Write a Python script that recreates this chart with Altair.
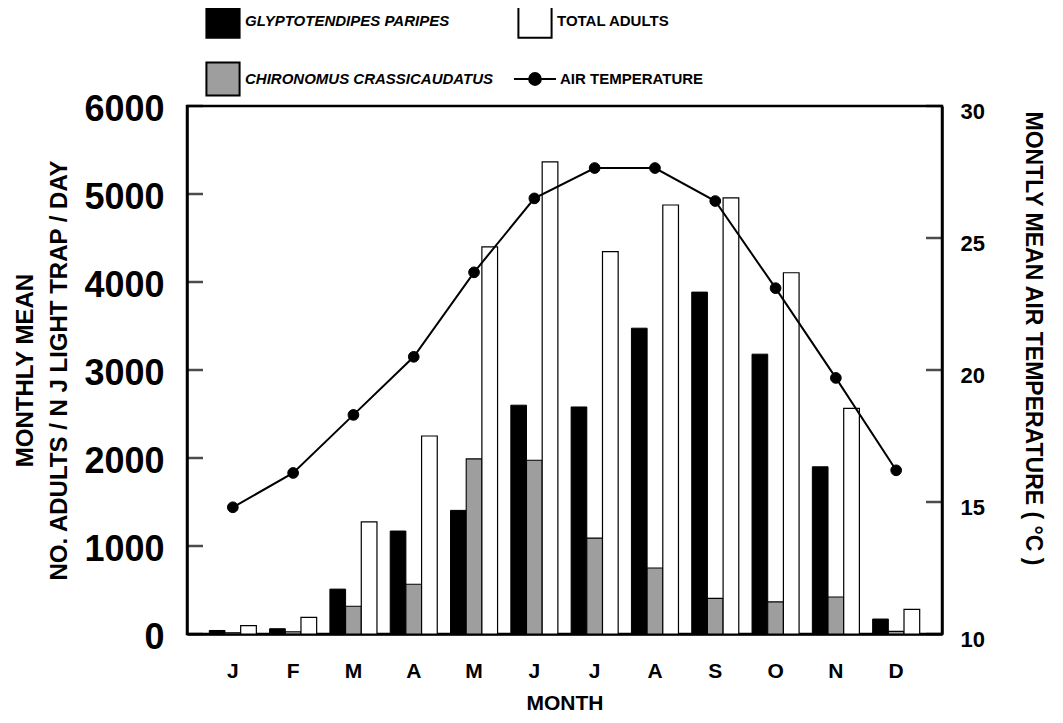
import json
import altair as alt
import pandas as pd

# ---------------- data ----------------
month_keys = ["Jan", "Feb", "Mar", "Apr", "May", "Jun",
              "Jul", "Aug", "Sep", "Oct", "Nov", "Dec"]
month_letters = ["J", "F", "M", "A", "M", "J", "J", "A", "S", "O", "N", "D"]

glyptotendipes = [40, 60, 510, 1170, 1405, 2600, 2580, 3475, 3885, 3180, 1900, 170]
chironomus = [15, 25, 315, 565, 1990, 1975, 1090, 750, 405, 365, 420, 30]
total_adults = [95, 190, 1275, 2250, 4400, 5365, 4345, 4875, 4955, 4105, 2565, 280]
air_temp = [14.8, 16.1, 18.3, 20.5, 23.7, 26.5, 27.65, 27.65, 26.4, 23.1, 19.7, 16.2]

S_G = "GLYPTOTENDIPES PARIPES"
S_C = "CHIRONOMUS CRASSICAUDATUS"
S_T = "TOTAL ADULTS"
S_AIR = "AIR TEMPERATURE"

bar_order = [S_G, S_C, S_T]          # order inside each month group
fill_colors = {S_G: "black", S_C: "#9e9e9e", S_T: "white"}
stroke_widths = {S_G: 1, S_C: 1.2, S_T: 3}

count_ticks = [0, 1000, 2000, 3000, 4000, 5000, 6000]
temp_ticks = [10, 15, 20, 25, 30]

# ---------------- tables ----------------
rows = []
for i, m in enumerate(month_keys):
    rows.append({"month": m, "series": S_G, "count": glyptotendipes[i]})
    rows.append({"month": m, "series": S_C, "count": chironomus[i]})
    rows.append({"month": m, "series": S_T, "count": total_adults[i]})
bars_df = pd.DataFrame(rows)
temp_df = pd.DataFrame({"month": month_keys, "temp": air_temp, "series": S_AIR})
count_tick_df = pd.DataFrame({"count": count_ticks})
temp_tick_df = pd.DataFrame({"temp": temp_ticks})

FONT = "Liberation Sans"
label_map = json.dumps(dict(zip(month_keys, month_letters)))

W, H = 755, 528
count_scale = alt.Scale(domain=[0, 6000], nice=False)
temp_scale = alt.Scale(domain=[10, 30], nice=False)

left_axis = alt.Axis(
    values=count_ticks, grid=False, ticks=False, format="d",
    title=["MONTHLY MEAN", "NO. ADULTS / N J LIGHT TRAP / DAY"],
    titleFont=FONT, titleFontSize=24, titleFontWeight="bold",
    titleLineHeight=34, titlePadding=12, titleColor="black",
    labelFont=FONT, labelFontSize=36, labelFontWeight="bold",
    labelColor="black", labelPadding=23, labelOffset=3,
    domainWidth=2.5, domainColor="black",
)

right_axis = alt.Axis(
    orient="right", values=temp_ticks, grid=False, ticks=False,
    title="MONTLY MEAN AIR TEMPERATURE ( °C )",
    titleFont=FONT, titleFontSize=23, titleFontWeight="bold",
    titlePadding=36, titleColor="black", titleY=232,
    labelFont=FONT, labelFontSize=22, labelFontWeight="bold",
    labelColor="black", labelPadding=18, labelOffset=5,
    domainWidth=2.5, domainColor="black",
)

x_axis = alt.Axis(
    title="MONTH", ticks=False, labelAngle=0,
    labelExpr=f"{label_map}[datum.value]",
    labelFont=FONT, labelFontSize=21, labelFontWeight="bold",
    labelPadding=26, titleFont=FONT, titleFontSize=21,
    titleFontWeight="bold", titlePadding=11,
    domainWidth=2.5, domainColor="black", labelColor="black",
    titleColor="black",
)

x_enc = alt.X(
    "month:N", sort=month_keys,
    scale=alt.Scale(paddingInner=0.22, paddingOuter=0.37),
    axis=x_axis,
)

bars = alt.Chart(bars_df).mark_bar(stroke="black").encode(
    x=x_enc,
    xOffset=alt.XOffset(
        "series:N", sort=bar_order,
        scale=alt.Scale(domain=bar_order, paddingInner=0, paddingOuter=0),
    ),
    y=alt.Y("count:Q", scale=count_scale, axis=left_axis),
    fill=alt.Fill(
        "series:N",
        scale=alt.Scale(domain=bar_order,
                        range=[fill_colors[s] for s in bar_order]),
        legend=alt.Legend(
            title=None, orient="none", legendX=18, legendY=-103,
            values=bar_order,
            columns=2, columnPadding=20, rowPadding=16, padding=0,
            symbolType="square", symbolSize=1100,
            symbolStrokeColor="black", symbolStrokeWidth=2,
            labelFont=FONT, labelFontSize=15, labelFontWeight="bold",
            labelColor="black", labelOffset=4, labelLimit=400,
            labelFontStyle={"expr": f"datum.value == '{S_T}' ? 'normal' : 'italic'"},
        ),
    ),
    strokeWidth=alt.StrokeWidth(
        "series:N",
        scale=alt.Scale(domain=bar_order,
                        range=[stroke_widths[s] for s in bar_order]),
        legend=None,
    ),
)

left_ticks = alt.Chart(count_tick_df).mark_tick(
    orient="horizontal", color="black", thickness=2.5, size=16
).encode(
    y=alt.Y("count:Q", scale=count_scale, axis=left_axis),
    x=alt.value(8),
)

right_ticks = alt.Chart(temp_tick_df).mark_tick(
    orient="horizontal", color="black", thickness=2.5, size=16
).encode(
    y=alt.Y("temp:Q", scale=temp_scale, axis=right_axis),
    x=alt.value(W - 8),
)

line = alt.Chart(temp_df).mark_line(strokeWidth=2, color="black").encode(
    x=alt.X("month:N", sort=month_keys, axis=x_axis),
    y=alt.Y("temp:Q", scale=temp_scale, axis=right_axis),
)

points = alt.Chart(temp_df).mark_point(
    filled=True, size=115, stroke="black", strokeWidth=1, opacity=1
).encode(
    x=alt.X("month:N", sort=month_keys, axis=x_axis),
    y=alt.Y("temp:Q", scale=temp_scale, axis=right_axis),
    fill=alt.Fill(
        "series:N",
        scale=alt.Scale(domain=[S_AIR], range=["black"]),
        legend=alt.Legend(
            title=None, orient="none", legendX=326, legendY=-49, padding=0,
            symbolType="M-1,0H1M-0.28,0A0.28,0.28,0,1,1,0.28,0A0.28,0.28,0,1,1,-0.28,0Z",
            symbolSize=1764, symbolStrokeWidth=2, symbolStrokeColor="black",
            labelFont=FONT, labelFontSize=15, labelFontWeight="bold",
            labelColor="black", labelOffset=3, labelLimit=400,
        ),
    ),
)

temp_layer = alt.layer(line, points, right_ticks)

chart = (
    alt.layer(alt.layer(bars, left_ticks), temp_layer)
    .resolve_scale(y="independent", fill="independent")
    .resolve_legend(fill="independent")
    .properties(
        width=W, height=H,
        autosize=alt.AutoSizeParams(type="none"),
        padding={"left": 179, "top": 98, "right": 113, "bottom": 81},
        background="white",
    )
    .configure_view(stroke="black", strokeWidth=2.5)
)

chart.save("out.html", embed_options={"renderer": "svg", "actions": False})
